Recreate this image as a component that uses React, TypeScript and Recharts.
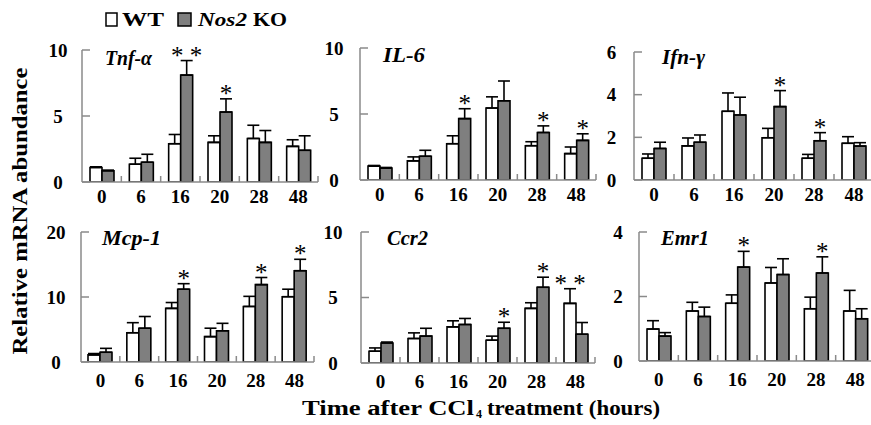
import React from 'react';
import { BarChart, Bar, XAxis, YAxis, ErrorBar, LabelList } from 'recharts';

const TIMES = ['0', '6', '16', '20', '28', '48'];

// Tnf-α
const TNF_WT = [1.1, 1.35, 2.9, 3.0, 3.3, 2.7];
const TNF_WT_ERR = [0.05, 0.45, 0.7, 0.5, 1.0, 0.5];
const TNF_KO = [0.85, 1.5, 8.1, 5.3, 3.0, 2.4];
const TNF_KO_ERR = [0.05, 0.6, 1.1, 1.0, 0.9, 1.1];
const TNF_WT_SIG = ['', '', '', '', '', ''];
const TNF_KO_SIG = ['', '', '* *', '*', '', ''];
const TNF_TICKS = [0, 5, 10];

// IL-6
const IL6_WT = [1.05, 1.45, 2.75, 5.45, 2.6, 2.0];
const IL6_WT_ERR = [0.05, 0.3, 0.6, 0.85, 0.3, 0.5];
const IL6_KO = [0.9, 1.8, 4.65, 6.0, 3.6, 3.0];
const IL6_KO_ERR = [0.05, 0.45, 0.75, 1.5, 0.5, 0.5];
const IL6_WT_SIG = ['', '', '', '', '', ''];
const IL6_KO_SIG = ['', '', '*', '', '*', '*'];
const IL6_TICKS = [0, 5, 10];

// Ifn-γ
const IFN_WT = [1.02, 1.6, 3.22, 1.98, 1.02, 1.72];
const IFN_WT_ERR = [0.2, 0.37, 0.86, 0.44, 0.18, 0.31];
const IFN_KO = [1.48, 1.77, 3.05, 3.44, 1.84, 1.59];
const IFN_KO_ERR = [0.29, 0.34, 0.83, 0.75, 0.38, 0.16];
const IFN_WT_SIG = ['', '', '', '', '', ''];
const IFN_KO_SIG = ['', '', '', '*', '*', ''];
const IFN_TICKS = [0, 2, 4, 6];

// Mcp-1
const MCP_WT = [1.1, 4.5, 8.25, 3.9, 8.55, 10.05];
const MCP_WT_ERR = [0.2, 1.55, 0.9, 1.3, 1.55, 1.15];
const MCP_KO = [1.5, 5.2, 11.2, 4.8, 11.9, 14.05];
const MCP_KO_ERR = [0.6, 1.8, 0.85, 1.15, 1.1, 1.75];
const MCP_WT_SIG = ['', '', '', '', '', ''];
const MCP_KO_SIG = ['', '', '*', '', '*', '*'];
const MCP_TICKS = [0, 10, 20];

// Ccr2
const CCR_WT = [0.9, 1.87, 2.76, 1.74, 4.17, 4.55];
const CCR_WT_ERR = [0.25, 0.43, 0.46, 0.31, 0.43, 1.12];
const CCR_KO = [1.53, 2.05, 2.94, 2.65, 5.78, 2.2];
const CCR_KO_ERR = [0.07, 0.6, 0.46, 0.46, 0.77, 0.89];
const CCR_WT_SIG = ['', '', '', '', '', '* *'];
const CCR_KO_SIG = ['', '', '', '*', '*', ''];
const CCR_TICKS = [0, 5, 10];

// Emr1
const EMR_WT = [0.99, 1.55, 1.79, 2.42, 1.62, 1.55];
const EMR_WT_ERR = [0.26, 0.27, 0.26, 0.48, 0.36, 0.64];
const EMR_KO = [0.77, 1.38, 2.91, 2.68, 2.73, 1.31];
const EMR_KO_ERR = [0.11, 0.29, 0.49, 0.49, 0.5, 0.31];
const EMR_WT_SIG = ['', '', '', '', '', ''];
const EMR_KO_SIG = ['', '', '*', '', '*', ''];
const EMR_TICKS = [0, 2, 4];

const LEGEND_WT = 'WT';
const LEGEND_KO_GENE = 'Nos2';
const LEGEND_KO = 'KO';
const Y_TITLE = 'Relative mRNA abundance';
const X_TITLE_A = 'Time after CCl';
const X_TITLE_SUB = '4';
const X_TITLE_B = 'treatment (hours)';

const PANELS = [
  { gene: 'Tnf-α', wt: TNF_WT, wtErr: TNF_WT_ERR, ko: TNF_KO, koErr: TNF_KO_ERR, wtSig: TNF_WT_SIG, koSig: TNF_KO_SIG, ticks: TNF_TICKS },
  { gene: 'IL-6', wt: IL6_WT, wtErr: IL6_WT_ERR, ko: IL6_KO, koErr: IL6_KO_ERR, wtSig: IL6_WT_SIG, koSig: IL6_KO_SIG, ticks: IL6_TICKS },
  { gene: 'Ifn-γ', wt: IFN_WT, wtErr: IFN_WT_ERR, ko: IFN_KO, koErr: IFN_KO_ERR, wtSig: IFN_WT_SIG, koSig: IFN_KO_SIG, ticks: IFN_TICKS },
  { gene: 'Mcp-1', wt: MCP_WT, wtErr: MCP_WT_ERR, ko: MCP_KO, koErr: MCP_KO_ERR, wtSig: MCP_WT_SIG, koSig: MCP_KO_SIG, ticks: MCP_TICKS },
  { gene: 'Ccr2', wt: CCR_WT, wtErr: CCR_WT_ERR, ko: CCR_KO, koErr: CCR_KO_ERR, wtSig: CCR_WT_SIG, koSig: CCR_KO_SIG, ticks: CCR_TICKS },
  { gene: 'Emr1', wt: EMR_WT, wtErr: EMR_WT_ERR, ko: EMR_KO, koErr: EMR_KO_ERR, wtSig: EMR_WT_SIG, koSig: EMR_KO_SIG, ticks: EMR_TICKS },
];

// layout (pixels)
const LAYOUT = [
  { left: 82, top: 50, width: 236, bottom: 182, yLab: 24, xLab: 20.5, gx: 105, gy: 65, gl: 47 },
  { left: 360, top: 48, width: 236, bottom: 180, yLab: 26, xLab: 20.5, gx: 383, gy: 62, gl: 42 },
  { left: 634, top: 52, width: 240, bottom: 180, yLab: 22.5, xLab: 20.5, gx: 662, gy: 64, gl: 43 },
  { left: 81, top: 232, width: 233, bottom: 362, yLab: 25, xLab: 24.5, gx: 102, gy: 245, gl: 59 },
  { left: 361, top: 232, width: 234, bottom: 363, yLab: 28, xLab: 24.5, gx: 387, gy: 245, gl: 41 },
  { left: 639, top: 232, width: 236, bottom: 361, yLab: 21, xLab: 24.5, gx: 661, gy: 245, gl: 48 },
];

const SERIF = "'Liberation Serif', 'Times New Roman', serif";
const AXIS = '#8a8a8a';
const KO_FILL = '#7f7f7f';

function Panel({ p, g }: { p: any; g: any }) {
  const padL = 50, padT = 14, padR = 4, padB = 34;
  const plotH = g.bottom - g.top;
  const W = padL + g.width + padR;
  const H = padT + plotH + padB;
  const yMax = p.ticks[p.ticks.length - 1];
  const bw = g.width / TIMES.length;
  const rows = TIMES.map((t, i) => ({
    t,
    wt: p.wt[i], wtErr: [0, p.wtErr[i]],
    ko: p.ko[i], koErr: [0, p.koErr[i]],
    wtSig: p.wtSig[i], koSig: p.koSig[i],
  }));

  const sig = (vals: number[], errs: number[]) => (props: any) => {
    const vb = props.viewBox || props;
    const value = props.value;
    const index = props.index;
    if (!value || index == null) return null;
    const top = vals[index] + errs[index];
    const errY = padT + plotH * (1 - top / yMax);
    return (
      <text x={vb.x + vb.width / 2} y={errY + 3} textAnchor="middle" fontFamily={SERIF} fontSize={25} fill="#000">
        {value}
      </text>
    );
  };

  const yTick = (props: any) => {
    const { x, y, payload } = props;
    return (
      <g>
        <line x1={x} x2={x + 8} y1={y} y2={y} stroke={AXIS} strokeWidth={1.5} />
        <text x={x - g.yLab} y={y} dy="0.35em" textAnchor="middle" fontFamily={SERIF} fontWeight="bold" fontSize={19} fill="#000">
          {payload.value}
        </text>
      </g>
    );
  };

  const xTick = (props: any) => {
    const { x, y, payload } = props;
    const bx = x + bw / 2;
    return (
      <g>
        <line x1={bx} x2={bx} y1={y} y2={y - 6} stroke={AXIS} strokeWidth={1.5} />
        <text x={x} y={y + g.xLab} textAnchor="middle" fontFamily={SERIF} fontWeight="bold" fontSize={19} fill="#000">
          {payload.value}
        </text>
      </g>
    );
  };

  return (
    <div style={{ position: 'absolute', left: g.left - padL, top: g.top - padT }}>
      <BarChart width={W} height={H} data={rows} margin={{ top: padT, right: padR, left: 0, bottom: 0 }} barGap={0} barSize={12}>
        <XAxis dataKey="t" interval={0} height={padB} tickSize={0} tickMargin={0} tickLine={false}
          axisLine={{ stroke: AXIS, strokeWidth: 1.5 }} tick={xTick} />
        <YAxis type="number" domain={[0, yMax]} ticks={p.ticks} interval={0} width={padL} tickSize={0} tickMargin={0}
          tickLine={false} axisLine={{ stroke: AXIS, strokeWidth: 1.5 }} tick={yTick} allowDataOverflow />
        <Bar dataKey="wt" fill="#ffffff" stroke="#000" strokeWidth={1.6} isAnimationActive={false}>
          <ErrorBar dataKey="wtErr" width={6} stroke="#000" strokeWidth={1.6} direction="y" isAnimationActive={false} />
          <LabelList dataKey="wtSig" content={sig(p.wt, p.wtErr)} />
        </Bar>
        <Bar dataKey="ko" fill={KO_FILL} stroke="#000" strokeWidth={1.6} isAnimationActive={false}>
          <ErrorBar dataKey="koErr" width={6} stroke="#000" strokeWidth={1.6} direction="y" isAnimationActive={false} />
          <LabelList dataKey="koSig" content={sig(p.ko, p.koErr)} />
        </Bar>
      </BarChart>
    </div>
  );
}

export default function App() {
  return (
    <div style={{ position: 'absolute', left: 0, top: 0, width: 871, height: 425, overflow: 'hidden', background: '#fff' }}>
      {PANELS.map((p, i) => (
        <Panel key={p.gene} p={p} g={LAYOUT[i]} />
      ))}
      <svg width={871} height={425} style={{ position: 'absolute', left: 0, top: 0, pointerEvents: 'none' }}>
        {/* legend */}
        <rect x={106} y={13} width={11} height={13} fill="#fff" stroke="#000" strokeWidth={1.5} />
        <text x={122} y={26} fontFamily={SERIF} fontWeight="bold" fontSize={19} textLength={42} lengthAdjust="spacingAndGlyphs">{LEGEND_WT}</text>
        <rect x={178} y={13} width={13} height={13} fill={KO_FILL} stroke="#000" strokeWidth={1.5} />
        <text x={198} y={26} fontFamily={SERIF} fontWeight="bold" fontStyle="italic" fontSize={19} textLength={49} lengthAdjust="spacingAndGlyphs">{LEGEND_KO_GENE}</text>
        <text x={253} y={26} fontFamily={SERIF} fontWeight="bold" fontSize={19} textLength={34} lengthAdjust="spacingAndGlyphs">{LEGEND_KO}</text>
        {/* gene labels */}
        {PANELS.map((p, i) => (
          <text key={p.gene} x={LAYOUT[i].gx} y={LAYOUT[i].gy} fontFamily={SERIF} fontWeight="bold" fontStyle="italic" fontSize={20}
            textLength={LAYOUT[i].gl} lengthAdjust="spacingAndGlyphs">{p.gene}</text>
        ))}
        {/* y title */}
        <text x={27} y={211} transform="rotate(-90 27 211)" textAnchor="middle" fontFamily={SERIF} fontWeight="bold" fontSize={22}
          textLength={287} lengthAdjust="spacingAndGlyphs">{Y_TITLE}</text>
        {/* x title */}
        <text x={302} y={415} fontFamily={SERIF} fontWeight="bold" fontSize={20} textLength={172} lengthAdjust="spacingAndGlyphs">{X_TITLE_A}</text>
        <text x={476} y={418} fontFamily={SERIF} fontWeight="bold" fontSize={12}>{X_TITLE_SUB}</text>
        <text x={487} y={415} fontFamily={SERIF} fontWeight="bold" fontSize={20} textLength={173} lengthAdjust="spacingAndGlyphs">{X_TITLE_B}</text>
      </svg>
    </div>
  );
}
